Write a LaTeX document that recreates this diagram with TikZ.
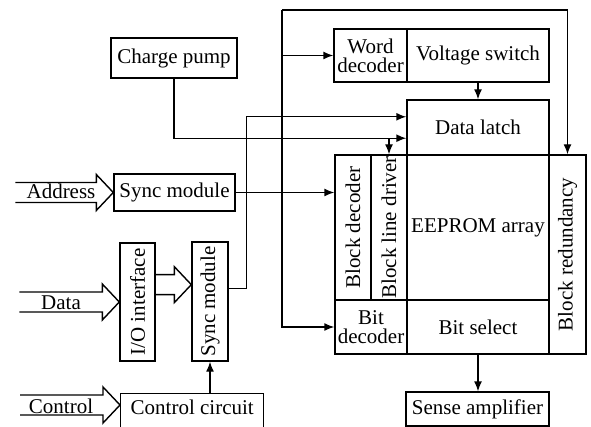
\documentclass[tikz,border=0pt]{standalone}
\usepackage{fontspec}
\setmainfont{Liberation Serif}
\usetikzlibrary{arrows.meta,calc}

\tikzset{
  blk/.style={draw, line width=1.4pt, inner sep=0pt, align=center,
    font=\fontsize{21}{19}\selectfont},
  lbl/.style={inner sep=0pt, font=\fontsize{21}{19}\selectfont},
  wire/.style={line width=1.4pt},
  arr/.style={wire, -{Latex[length=10pt,width=8pt]}},
}
% wide outlined input arrow: tip coordinate, length
\newcommand{\fatarrow}[2]{%
  \draw[wire] ($#1+(-#2,-10)$) -- ($#1+(-17,-10)$) -- ($#1+(-17,-18)$) -- #1
    -- ($#1+(-17,18)$) -- ($#1+(-17,10)$) -- ($#1+(-#2,10)$);}

\begin{document}
\begin{tikzpicture}[x=1pt, y=-1pt]
\useasboundingbox (0,0) rectangle (591,427);

% left side
\node[blk, minimum width=126, minimum height=40] (pump) at (174,58) {Charge pump};
\node[blk, minimum width=121, minimum height=37] (sync1) at (174.5,192.5) {Sync module};
\node[blk, minimum width=35, minimum height=118] (io) at (137.5,302) {\rotatebox{90}{I/O interface}};
\node[blk, minimum width=36, minimum height=119] (sync2) at (210,301.5) {\rotatebox{90}{Sync module}};
\node[blk, anchor=north west, minimum width=143, text height=21pt, text depth=17pt] (ctrl) at (120,393) {Control circuit};

\node[lbl, anchor=base] (addr) at (61,199) {Address};
\node[lbl, anchor=base] (data) at (61,309) {Data};
\node[lbl, anchor=base] (cont) at (61,413) {Control};

% memory core
\node[blk, minimum width=73, minimum height=53] (worddec) at (370.5,55.5) {Word\\decoder};
\node[blk, minimum width=142, minimum height=53] (vswitch) at (478,55.5) {Voltage switch};
\node[blk, minimum width=142, minimum height=55] (latch) at (478,127.5) {Data latch};
\node[blk, minimum width=36, minimum height=145] (blkdec) at (353,227.5) {\rotatebox{90}{Block decoder}};
\node[blk, minimum width=36, minimum height=145] (blkline) at (389,227.5) {\rotatebox{90}{Block line driver}};
\node[blk, minimum width=142, minimum height=145] (array) at (478,227.5) {EEPROM array};
\node[blk, minimum width=37, minimum height=199] (red) at (567.5,254.5) {\rotatebox{90}{Block redundancy}};
\node[blk, minimum width=72, minimum height=54] (bitdec) at (371,327) {Bit\\decoder};
\node[blk, minimum width=142, minimum height=54] (bitsel) at (478,327) {Bit select};
\node[blk, minimum width=143, minimum height=34] (sense) at (477.5,409) {Sense amplifier};

% inputs
\coordinate (smtip) at ($(sync2.north west)!0.36!(sync2.south west)$);
\coordinate (ctip) at ($(ctrl.north west)+(0,12)$);
\fatarrow{(sync1.west)}{98}
\fatarrow{(io.west)}{100}
\fatarrow{(smtip)}{37}
\fatarrow{(ctip)}{100}

% connections
\coordinate (dlin1) at ($(latch.north west)!0.31!(latch.south west)$);
\coordinate (dlin2) at ($(latch.north west)!0.69!(latch.south west)$);
\coordinate (smout) at ($(sync2.north east)!0.39!(sync2.south east)$);
\coordinate (bus) at (282,10);

\draw[arr] (pump.south) |- (dlin2);
\draw[arr] (dlin2 -| blkline.north) -- (blkline.north);
\draw[arr] (smout) -- ++(18,0) |- (dlin1);
\draw[arr] (sync1.east) -- (sync1.east -| blkdec.west);
\draw[arr] (bus) -| (red.north);
\draw[arr] (bus) |- (bitdec.west);
\draw[arr] (bus |- worddec.west) -- (worddec.west);
\draw[arr] (vswitch.south) -- (latch.north);
\draw[arr] (bitsel.south) -- (bitsel.south |- sense.north);
\draw[arr] (ctrl.north -| sync2.south) -- (sync2.south);
\end{tikzpicture}
\end{document}
